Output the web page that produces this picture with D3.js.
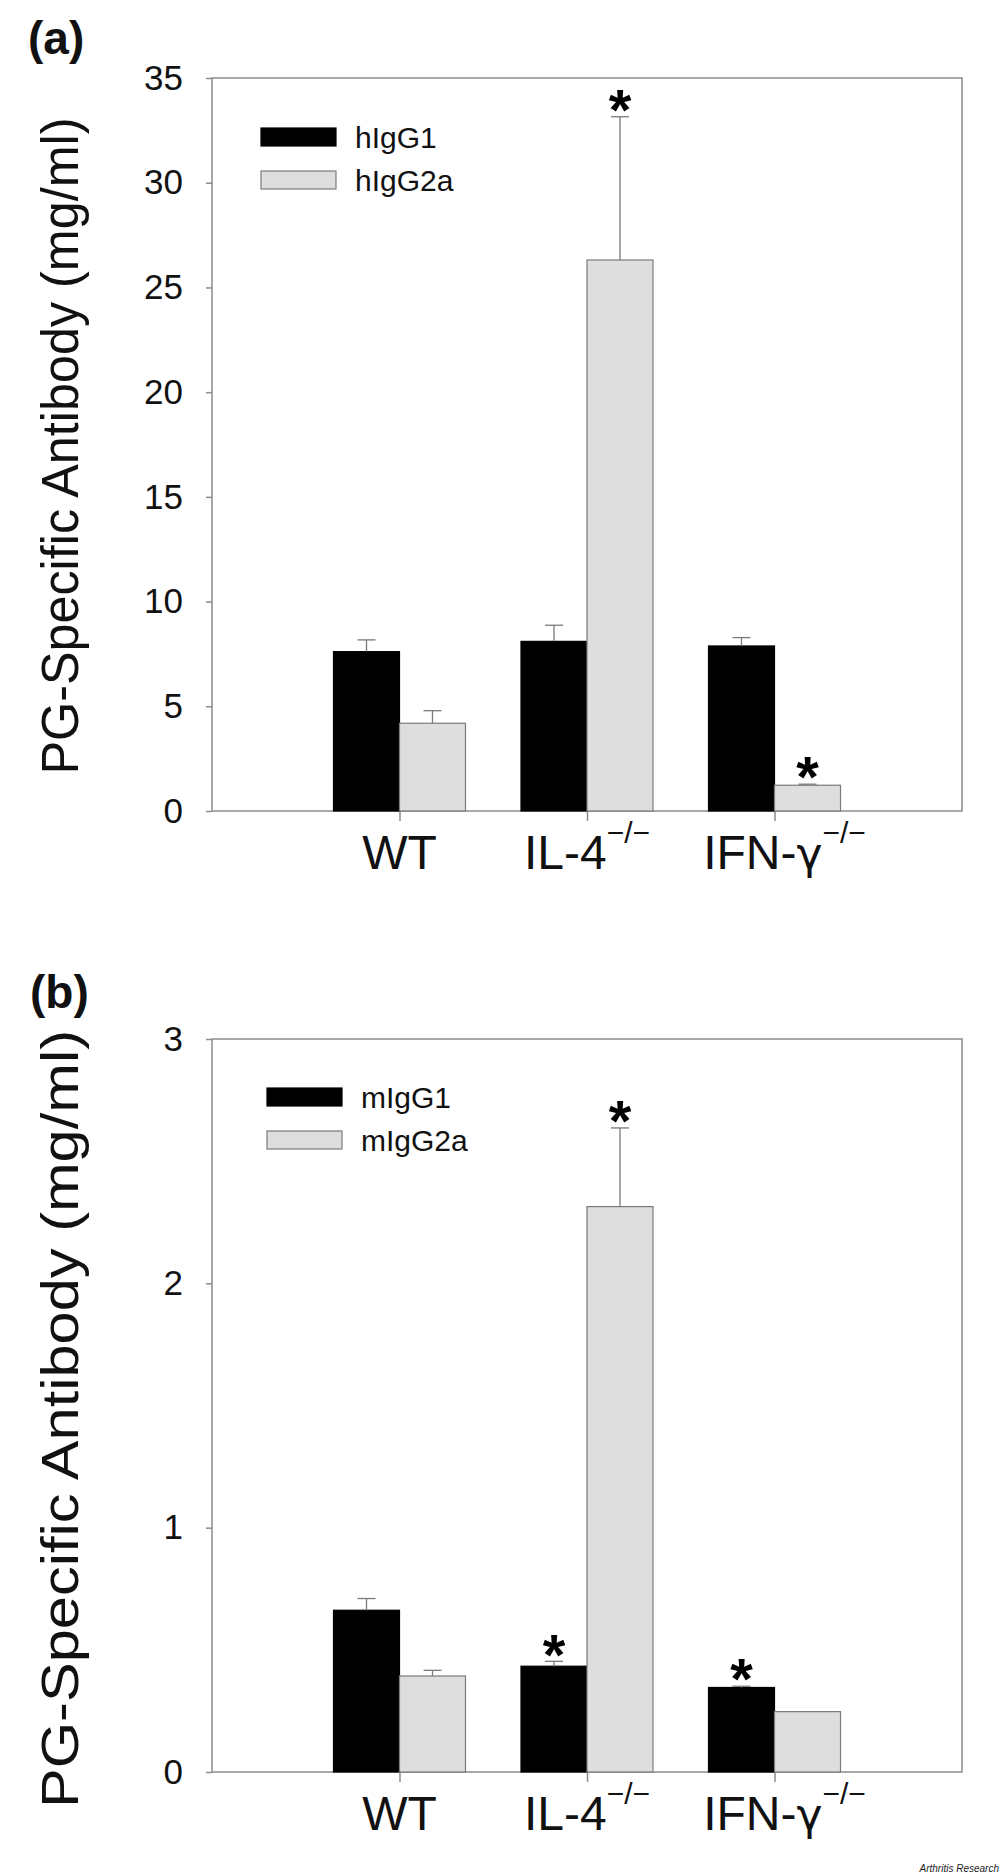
<!DOCTYPE html>
<html>
<head>
<meta charset="utf-8">
<script src="https://cdn.jsdelivr.net/npm/d3@7"></script>
<style>
  body { margin: 0; background: #fff; }
  svg { display: block; font-family: "Liberation Sans", Arial, sans-serif; }
</style>
</head>
<body>
<div id="chart"></div>
<script>

// groups on the x axis, with the knockout superscript kept separately
const groups = ["WT", "IL-4", "IFN-\u03b3"]
const groupSup = ["", "\u2212/\u2212", "\u2212/\u2212"]

// panel (a) - human PG specific antibody
const seriesA = ["hIgG1", "hIgG2a"]
const hIgG1 = [7.61, 8.10, 7.88]
const hIgG1Err = [0.56, 0.77, 0.40]
const hIgG2a = [4.19, 26.31, 1.23]
const hIgG2aErr = [0.60, 6.84, 0.05]
const yTicksA = [0, 5, 10, 15, 20, 25, 30, 35]
const starsA = [[1, 1], [2, 1]]   // [group, series]

// panel (b) - mouse PG specific antibody
const seriesB = ["mIgG1", "mIgG2a"]
const mIgG1 = [0.662, 0.433, 0.346]
const mIgG1Err = [0.048, 0.020, 0.005]
const mIgG2a = [0.393, 2.314, 0.247]
const mIgG2aErr = [0.023, 0.322, 0]
const yTicksB = [0, 1, 2, 3]
const starsB = [[1, 1], [1, 0], [2, 0]]

const yLabel = "PG-Specific Antibody (mg/ml)"

width = 1000
height = 1875

const colors = ["#000000", "#dedede"]
const axisGrey = "#8c8c8c"

const svg = d3.select("#chart").append("svg")
  .attr("width", width)
  .attr("height", height)

function drawPanel(p){

  let g = svg.append("g")

  let x = d3.scaleLinear()
    .domain([0, groups.length + 1])
    .range([p.left, p.right])

  let y = d3.scaleLinear()
    .domain([0, d3.max(p.ticks)])
    .range([p.bottom, p.top])

  let bw = x(0.352) - x(0)

  // frame
  g.append("rect")
    .attr("x", p.left)
    .attr("y", p.top)
    .attr("width", p.right - p.left)
    .attr("height", p.bottom - p.top)
    .attr("fill", "none")
    .attr("stroke", axisGrey)
    .attr("stroke-width", 1.5)

  // y axis
  g.append("g")
    .attr("transform", `translate(${p.left},0)`)
    .call(d3.axisLeft(y).tickValues(p.ticks).tickSize(6).tickPadding(23).tickFormat(d3.format("d")))
    .call(a => a.select(".domain").remove())
    .call(a => a.selectAll("line").attr("stroke", axisGrey).attr("stroke-width", 1.5))
    .call(a => a.selectAll("text")
      .attr("font-family", "Liberation Sans, Arial, sans-serif")
      .attr("font-size", 35)
      .attr("fill", "#111"))

  // x axis ticks
  g.append("g")
    .attr("transform", `translate(0,${p.bottom})`)
    .call(d3.axisBottom(x).tickValues(groups.map((d, i) => i + 1)).tickSize(10).tickFormat(""))
    .call(a => a.select(".domain").remove())
    .call(a => a.selectAll("line").attr("stroke", axisGrey).attr("stroke-width", 1.5))

  // x labels with superscripts (gamma drawn in DejaVu for the looped glyph)
  groups.forEach(function(name, i){
    let t = g.append("text")
      .attr("x", x(i + 1) + (i == 2 ? 10 : 0))
      .attr("y", p.bottom + 58)
      .attr("text-anchor", "middle")
      .attr("font-size", 48)
      .attr("fill", "#111")
    if(name.endsWith("\u03b3")){
      t.append("tspan").text(name.slice(0, -1))
      t.append("tspan").attr("font-family", "DejaVu Sans").attr("font-size", 44).text("\u03b3")
    }
    else t.append("tspan").text(name)
    if(groupSup[i]){
      t.append("tspan")
        .attr("font-size", 30)
        .attr("dy", -26)
        .text(groupSup[i])
    }
  })

  // bars + error bars
  p.values.forEach(function(vals, s){
    let errs = p.errors[s]
    let barG = g.append("g")

    barG.selectAll("rect")
      .data(vals)
      .enter()
      .append("rect")
      .attr("x", (d, i) => x(i + 1) - bw + s * bw)
      .attr("y", d => y(d))
      .attr("width", bw)
      .attr("height", d => y(0) - y(d))
      .attr("fill", colors[s])
      .attr("stroke", s == 0 ? "#000" : "#7a7a7a")
      .attr("stroke-width", 1.2)

    let eb = barG.selectAll(".err")
      .data(vals.map((v, i) => ({i: i, v: v, e: errs[i]})).filter(d => d.e > 0))
      .enter()
      .append("g")
      .attr("class", "err")
      .attr("stroke", "#7a7a7a")
      .attr("stroke-width", 1.3)

    eb.append("line")
      .attr("x1", d => x(d.i + 1) - bw / 2 + s * bw)
      .attr("x2", d => x(d.i + 1) - bw / 2 + s * bw)
      .attr("y1", d => y(d.v))
      .attr("y2", d => y(d.v + d.e))

    eb.append("line")
      .attr("x1", d => x(d.i + 1) - bw / 2 + s * bw - 9)
      .attr("x2", d => x(d.i + 1) - bw / 2 + s * bw + 9)
      .attr("y1", d => y(d.v + d.e))
      .attr("y2", d => y(d.v + d.e))
  })

  // significance stars
  p.stars.forEach(function(st){
    let gi = st[0], s = st[1]
    let top = y(p.values[s][gi] + p.errors[s][gi])
    g.append("text")
      .attr("x", x(gi + 1) - bw / 2 + s * bw)
      .attr("y", top - 20 + 0.573 * 58)
      .attr("text-anchor", "middle")
      .attr("font-size", 58)
      .attr("font-weight", "bold")
      .attr("fill", "#000")
      .text("*")
  })

  // legend
  p.series.forEach(function(name, s){
    g.append("rect")
      .attr("x", p.left + p.legX)
      .attr("y", p.top + p.legY + s * 43)
      .attr("width", 75)
      .attr("height", 18)
      .attr("fill", colors[s])
      .attr("stroke", s == 0 ? "#000" : "#7a7a7a")
      .attr("stroke-width", 1.2)
    g.append("text")
      .attr("x", p.left + p.legX + 94)
      .attr("y", p.top + p.legY + s * 43 + 20)
      .attr("font-size", 30)
      .attr("fill", "#111")
      .text(name)
  })

  // y axis title
  g.append("text")
    .attr("transform", `translate(78,${p.labelMid}) rotate(-90)`)
    .attr("text-anchor", "middle")
    .attr("font-size", 52)
    .attr("textLength", p.labelLen)
    .attr("lengthAdjust", "spacingAndGlyphs")
    .attr("fill", "#111")
    .text(yLabel)

  // panel letter
  g.append("text")
    .attr("x", p.letterX)
    .attr("y", p.letterY)
    .attr("font-size", 46)
    .attr("font-weight", "bold")
    .attr("fill", "#111")
    .text(p.letter)
}

drawPanel({
  letter: "(a)", letterX: 28, letterY: 54,
  top: 78, bottom: 811, left: 212, right: 962,
  ticks: yTicksA,
  series: seriesA,
  values: [hIgG1, hIgG2a],
  errors: [hIgG1Err, hIgG2aErr],
  stars: starsA,
  legX: 49, legY: 50,
  labelMid: 446, labelLen: 657
})

drawPanel({
  letter: "(b)", letterX: 30, letterY: 1008,
  top: 1039, bottom: 1772, left: 212, right: 962,
  ticks: yTicksB,
  series: seriesB,
  values: [mIgG1, mIgG2a],
  errors: [mIgG1Err, mIgG2aErr],
  stars: starsB,
  legX: 55, legY: 49,
  labelMid: 1419, labelLen: 778
})

svg.append("text")
  .attr("x", 999)
  .attr("y", 1872)
  .attr("text-anchor", "end")
  .attr("font-size", 10)
  .attr("font-style", "italic")
  .attr("fill", "#222")
  .text("Arthritis Research")

</script>
</body>
</html>
